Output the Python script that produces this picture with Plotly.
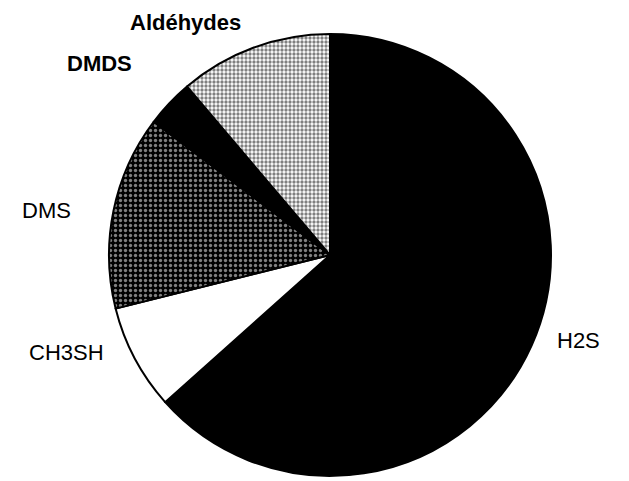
"""Camembert : composition des composés odorants (reproduction Plotly)."""

import plotly.graph_objects as go

# Données (parts en %, sens horaire depuis midi)
COMPOSES = ["H2S", "CH3SH", "DMS", "DMDS", "Aldéhydes"]
PARTS = [63.4, 7.7, 14.2, 3.5, 11.2]

# Styles des secteurs
FOND = ["#000000", "#ffffff", "#000000", "#000000", "#ffffff"]
MOTIF = ["", "", ".", "", "."]
MOTIF_COULEUR = ["#000000", "#000000", "#ffffff", "#000000", "#000000"]
MOTIF_TAILLE = [6, 6, 5, 6, 4]
MOTIF_SOLIDITE = [0.3, 0.3, 0.35, 0.3, 0.55]

# Position des étiquettes (pixels dans la fenêtre 629x481) et graisse
ETIQUETTES = {
    "H2S": (578, 340, False),
    "CH3SH": (66, 352, False),
    "DMS": (46, 210, False),
    "DMDS": (99, 63, True),
    "Aldéhydes": (185, 22, True),
}

W, H = 629, 481
DECALAGE = 8  # marge du <body> de la page html
CX, CY, R = 330 - DECALAGE, 255 - DECALAGE, 221

fig = go.Figure(
    go.Pie(
        labels=COMPOSES,
        values=PARTS,
        sort=False,
        direction="clockwise",
        rotation=0,
        textinfo="none",
        hoverinfo="label+percent",
        showlegend=False,
        marker={
            "colors": FOND,
            "line": {"color": "#000000", "width": 2},
            "pattern": {
                "shape": MOTIF,
                "fgcolor": MOTIF_COULEUR,
                "bgcolor": FOND,
                "size": MOTIF_TAILLE,
                "solidity": MOTIF_SOLIDITE,
                "fillmode": "overlay",
            },
        },
        domain={
            "x": [(CX - R) / W, (CX + R) / W],
            "y": [(H - CY - R) / H, (H - CY + R) / H],
        },
    )
)

for nom, (x, y, gras) in ETIQUETTES.items():
    fig.add_annotation(
        x=(x - DECALAGE) / W,
        y=1 - (y - DECALAGE) / H,
        xref="paper",
        yref="paper",
        text=f"<b>{nom}</b>" if gras else nom,
        showarrow=False,
        xanchor="center",
        yanchor="middle",
        font={"family": "Arial, 'Liberation Sans', sans-serif", "size": 22, "color": "#000000"},
    )

fig.update_layout(
    width=W,
    height=H,
    margin={"l": 0, "r": 0, "t": 0, "b": 0},
    paper_bgcolor="#ffffff",
    plot_bgcolor="#ffffff",
)

fig.write_html("out.html")
